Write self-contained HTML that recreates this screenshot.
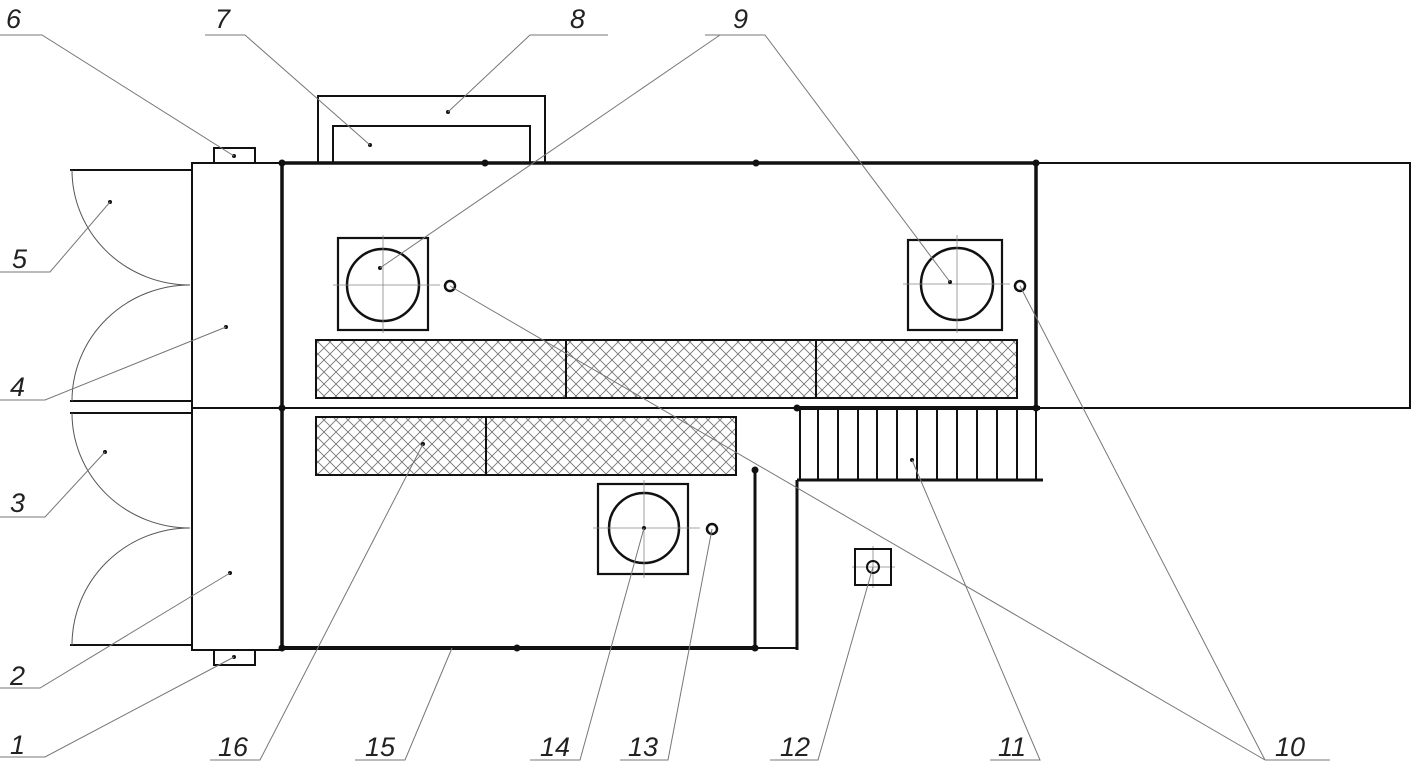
<!DOCTYPE html>
<html><head><meta charset="utf-8"><style>
html,body{margin:0;padding:0;background:#fff}
svg{display:block}
text{font-family:"Liberation Sans",sans-serif;font-style:italic;font-size:27px;fill:#222}
</style></head><body>
<svg width="1411" height="764" viewBox="0 0 1411 764" xmlns="http://www.w3.org/2000/svg">
<defs>
<pattern id="h" width="12" height="12" patternUnits="userSpaceOnUse">
<path d="M0 0L12 12M12 0L0 12" stroke="#777" stroke-width="0.9"/>
</pattern>
</defs>
<g fill="none" stroke="#111">
<rect x="1036" y="163" width="374" height="245" stroke-width="2"/>
<line x1="280" y1="163" x2="1036" y2="163" stroke-width="3.5"/>
<line x1="282" y1="163" x2="282" y2="650" stroke-width="3.5"/>
<line x1="1036" y1="163" x2="1036" y2="408" stroke-width="3.5"/>
<line x1="192" y1="408" x2="1410" y2="408" stroke-width="2"/>
<line x1="797" y1="408" x2="1040" y2="408" stroke-width="4"/>
<line x1="280" y1="648" x2="755" y2="648" stroke-width="4"/>
<line x1="755" y1="648" x2="797" y2="648" stroke-width="2"/>
<line x1="797" y1="480" x2="797" y2="650" stroke-width="3"/>
<line x1="755" y1="470" x2="755" y2="648" stroke-width="3"/>
<line x1="797" y1="480" x2="1043" y2="480" stroke-width="3"/>
<rect x="192" y="163" width="90" height="487" stroke-width="2"/>
<rect x="214" y="148" width="41" height="15" stroke-width="2"/>
<rect x="214" y="650" width="41" height="15" stroke-width="2"/>
<line x1="70" y1="170" x2="192" y2="170" stroke-width="2"/>
<line x1="70" y1="401" x2="192" y2="401" stroke-width="2"/>
<line x1="70" y1="413" x2="192" y2="413" stroke-width="2"/>
<line x1="70" y1="645" x2="192" y2="645" stroke-width="2"/>
<g stroke="#555" stroke-width="1">
<path d="M72 170 A118 115 0 0 0 190 285"/>
<path d="M190 285 A118 116 0 0 0 72 401"/>
<path d="M72 413 A118 115 0 0 0 190 528"/>
<path d="M190 528 A118 117 0 0 0 72 645"/>
</g>
<path d="M318 163V96H545V163" stroke-width="2"/>
<path d="M333 163V126H530V163" stroke-width="2"/>
<rect x="338" y="238" width="90" height="92" stroke-width="2.2"/>
<circle cx="383" cy="285" r="36" stroke-width="2.5"/>
<rect x="908" y="240" width="94" height="90" stroke-width="2.2"/>
<circle cx="957" cy="284" r="36" stroke-width="2.5"/>
<rect x="598" y="484" width="90" height="90" stroke-width="2.2"/>
<circle cx="644" cy="528" r="35" stroke-width="2.5"/>
<g stroke="#888" stroke-width="0.8">
<path d="M333 285H440M383 235V333M903 284H1010M957 235V333M593 528H700M644 480V578M852 567H895M873 546V588"/>
</g>
<circle cx="450" cy="286" r="5" stroke-width="2.5"/>
<circle cx="1020" cy="286" r="5" stroke-width="2.5"/>
<circle cx="712" cy="529" r="5" stroke-width="2.5"/>
<rect x="855" y="549" width="36" height="36" stroke-width="2"/>
<circle cx="873" cy="567" r="6" stroke-width="2"/>
<rect x="316" y="340" width="701" height="58" fill="url(#h)" stroke-width="2"/>
<line x1="566" y1="340" x2="566" y2="398" stroke-width="2"/>
<line x1="816" y1="340" x2="816" y2="398" stroke-width="2"/>
<rect x="316" y="417" width="420" height="58" fill="url(#h)" stroke-width="2"/>
<line x1="486" y1="417" x2="486" y2="475" stroke-width="2"/>
<g stroke-width="2">
<path d="M800 408V480M818 408V480M838 408V480M858 408V480M877 408V480M897 408V480M917 408V480M937 408V480M957 408V480M977 408V480M997 408V480M1017 408V480M1036 408V480"/>
</g>
</g>
<g fill="#111">
<circle cx="282" cy="163" r="3.5"/><circle cx="485" cy="163" r="3.5"/><circle cx="756" cy="163" r="3.5"/><circle cx="1036" cy="163" r="3.5"/>
<circle cx="282" cy="408" r="3.5"/><circle cx="1036" cy="408" r="3.5"/><circle cx="797" cy="408" r="3.5"/>
<circle cx="282" cy="648" r="3.5"/><circle cx="517" cy="648" r="3.5"/><circle cx="755" cy="648" r="3.5"/><circle cx="755" cy="470" r="3.5"/>
<circle cx="234" cy="156" r="2"/><circle cx="370" cy="145" r="2"/><circle cx="448" cy="112" r="2"/>
<circle cx="380" cy="268" r="2"/><circle cx="950" cy="282" r="2"/><circle cx="110" cy="202" r="2"/>
<circle cx="226" cy="327" r="2"/><circle cx="105" cy="452" r="2"/><circle cx="230" cy="573" r="2"/>
<circle cx="234" cy="657" r="2"/><circle cx="423" cy="444" r="2"/><circle cx="644" cy="528" r="2"/><circle cx="912" cy="460" r="2"/>
</g>
<g stroke="#777" stroke-width="1" fill="none">
<path d="M0 35H42L234 156"/>
<path d="M205 35H245L370 145"/>
<path d="M608 35H530L448 112"/>
<path d="M705 35H765L950 282M720 35L380 268"/>
<path d="M0 272H50L110 202"/>
<path d="M0 400H45L226 327"/>
<path d="M0 517H45L105 452"/>
<path d="M0 688H40L230 573"/>
<path d="M0 757H45L234 657"/>
<path d="M210 760H260L423 444"/>
<path d="M355 760H405L452 648"/>
<path d="M530 760H580L644 528"/>
<path d="M620 760H668L712 529"/>
<path d="M770 760H818L873 567"/>
<path d="M990 760H1040L912 460"/>
<path d="M1265 760H1330M1265 760L450 286M1265 760L1020 286"/>
</g>
<text x="6" y="28">6</text>
<text x="215" y="28">7</text>
<text x="570" y="28">8</text>
<text x="733" y="28">9</text>
<text x="12" y="268">5</text>
<text x="10" y="396">4</text>
<text x="10" y="512">3</text>
<text x="10" y="685">2</text>
<text x="10" y="754">1</text>
<text x="218" y="756">16</text>
<text x="365" y="756">15</text>
<text x="540" y="756">14</text>
<text x="628" y="756">13</text>
<text x="780" y="756">12</text>
<text x="998" y="756">11</text>
<text x="1275" y="756">10</text>
</svg>
</body></html>
